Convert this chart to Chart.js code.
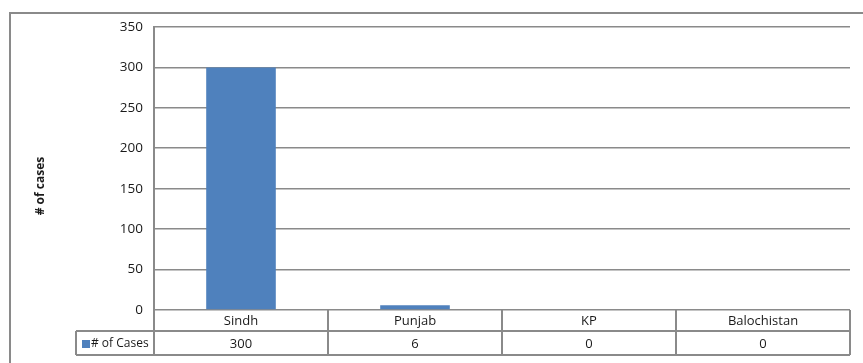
<!DOCTYPE html>
<html>
<head>
<meta charset="utf-8">
<script src="https://cdn.jsdelivr.net/npm/chart.js@4/dist/chart.umd.min.js"></script>
<style>
  html, body { margin: 0; padding: 0; background: #fff; }
  #wrap { width: 863px; height: 363px; position: relative; }
</style>
</head>
<body>
<div id="wrap"><canvas id="c" width="863" height="363"></canvas></div>
<script>
// Reported cases by province
const provinces = ['Sindh', 'Punjab', 'KP', 'Balochistan'];
const cases = [300, 6, 0, 0];
const seriesName = '# of Cases';
const axisTitle = '# of cases';
const yTicks = [0, 50, 100, 150, 200, 250, 300, 350];

const FONT = '"Open Sans", "Liberation Sans", sans-serif';
const LINE = '#8a8a8a';
const BAR = '#4f81bd';

// Frame, axis title and the data table under the plot
const tablePlugin = {
  id: 'dataTable',
  afterDraw(chart) {
    const ctx = chart.ctx;
    const x = chart.scales.x;
    const area = chart.chartArea;
    const row1Top = area.bottom;
    const row1Bot = row1Top + 21;
    const row2Bot = row1Bot + 24;
    const legendLeft = 76;
    const step = x.getPixelForValue(1) - x.getPixelForValue(0);
    const colLeft = i => x.getPixelForValue(i) - step / 2;

    ctx.save();
    ctx.strokeStyle = LINE;
    ctx.lineWidth = 2;

    // outer frame
    ctx.beginPath();
    ctx.moveTo(10, 364);
    ctx.lineTo(10, 13);
    ctx.lineTo(864, 13);
    ctx.stroke();

    // table grid
    ctx.beginPath();
    ctx.moveTo(area.left, row1Bot);
    ctx.lineTo(area.right, row1Bot);
    ctx.moveTo(legendLeft, row2Bot);
    ctx.lineTo(area.right, row2Bot);
    ctx.moveTo(legendLeft, row1Bot);
    ctx.lineTo(area.left, row1Bot);
    ctx.moveTo(legendLeft, row1Bot);
    ctx.lineTo(legendLeft, row2Bot);
    for (let i = 0; i <= provinces.length; i++) {
      const px = i < provinces.length ? colLeft(i) : colLeft(i - 1) + step;
      ctx.moveTo(px, row1Top);
      ctx.lineTo(px, row2Bot);
    }
    ctx.stroke();

    // cell texts
    ctx.fillStyle = '#1a1a1a';
    ctx.font = '13px ' + FONT;
    ctx.textAlign = 'center';
    ctx.textBaseline = 'middle';
    provinces.forEach((p, i) => {
      const cx = x.getPixelForValue(i);
      ctx.fillText(p, cx, (row1Top + row1Bot) / 2 + 1);
      ctx.fillText(String(cases[i]), cx, (row1Bot + row2Bot) / 2 + 1);
    });

    // legend key and series name
    ctx.fillStyle = BAR;
    ctx.fillRect(legendLeft + 6, row1Bot + 9, 8, 8);
    ctx.fillStyle = '#1a1a1a';
    ctx.textAlign = 'left';
    ctx.font = '12px ' + FONT;
    ctx.fillText(seriesName, legendLeft + 15, (row1Bot + row2Bot) / 2 + 1);

    // y axis title
    ctx.translate(41, 186);
    ctx.rotate(-Math.PI / 2);
    ctx.textAlign = 'center';
    ctx.font = 'bold 12px ' + FONT;
    ctx.fillText(axisTitle, 0, 0);
    ctx.restore();
  }
};

new Chart(document.getElementById('c'), {
  type: 'bar',
  data: {
    labels: provinces,
    datasets: [{
      label: seriesName,
      data: cases,
      backgroundColor: BAR,
      borderWidth: 0,
      categoryPercentage: 1,
      barPercentage: 0.4
    }]
  },
  options: {
    responsive: false,
    animation: false,
    layout: { padding: { left: 0, top: 27, right: 13, bottom: 0 } },
    plugins: { legend: { display: false }, tooltip: { enabled: false } },
    scales: {
      x: {
        grid: { display: false },
        border: { display: false },
        ticks: { display: false },
        afterFit(s) { s.height = 53; }
      },
      y: {
        min: 0,
        max: 350,
        afterBuildTicks(s) { s.ticks = yTicks.map(v => ({ value: v })); },
        grid: { color: LINE, lineWidth: 1.6, drawTicks: false },
        border: { display: true, color: LINE, width: 2 },
        ticks: {
          padding: 11,
          color: '#1a1a1a',
          font: { family: FONT, size: 13.5 }
        },
        afterFit(s) { s.width = 154; }
      }
    }
  },
  plugins: [tablePlugin]
});
</script>
</body>
</html>
